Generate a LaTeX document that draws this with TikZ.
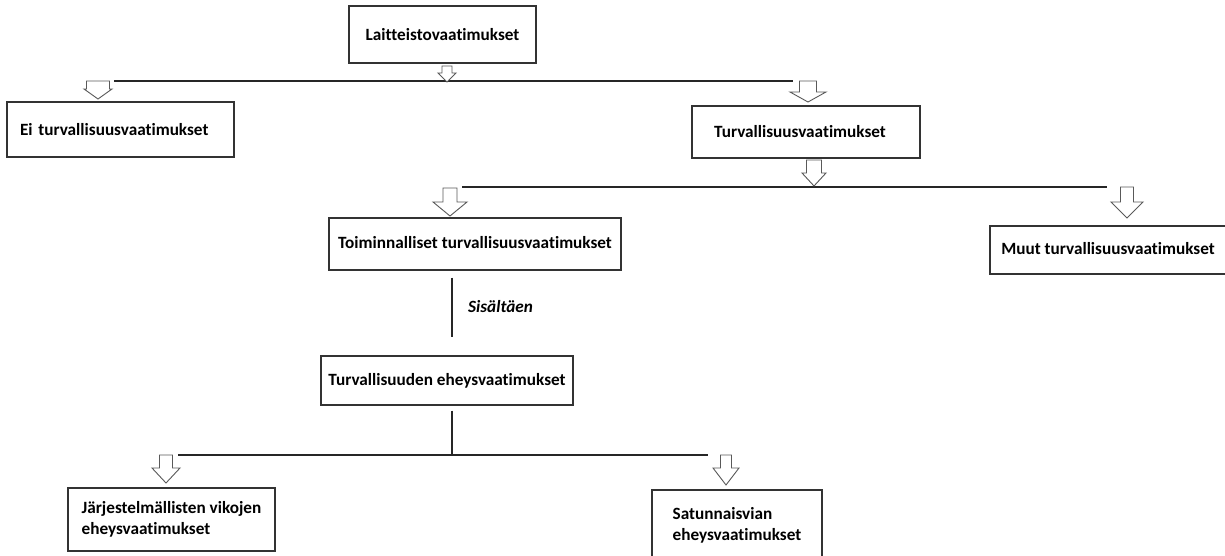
\documentclass[tikz,border=0pt]{standalone}
\usepackage{fontspec}
\setmainfont{Carlito}[Ligatures=NoCommon]
\begin{document}
\begin{tikzpicture}[x=1pt,y=-1pt,
  box/.style={draw=black!80, line width=1.1pt, inner sep=0pt, fill=white,
     font=\fontsize{17.2}{21}\selectfont\bfseries, text=black},
  lbox/.style={box, align=left},
  conn/.style={draw=black!85, line width=1.1pt},
  barrow/.style={draw=black!65, line width=0.9pt, fill=white, line join=miter},
  lbl/.style={font=\fontsize{17.2}{20}\selectfont\bfseries\itshape, inner sep=0pt}
]
\useasboundingbox (0,0) rectangle (1225,556);
\newcommand\blockarrow[6]{%
  \draw[barrow] ({#1-#5},#2) -- ({#1+#5},#2) -- ({#1+#5},#3) -- ({#1+#6},#3)
    -- (#1,#4) -- ({#1-#6},#3) -- ({#1-#5},#3) -- cycle;}

% boxes
\node[box, minimum width=187pt, minimum height=57pt] (lait) at (442.5,34.5) {Laitteistovaatimukset};
\node[lbox, text width=201pt, inner xsep=13pt, minimum height=55pt] (ei) at (120.5,129.5) {Ei turvallisuusvaatimukset};
\node[box, minimum width=228pt, minimum height=52pt, text width=208pt, inner xsep=0pt, align=center] (turv) at (806,132) {\hspace*{-12pt}Turvallisuusvaatimukset};
\node[box, minimum width=292pt, minimum height=52pt] (toim) at (475,244) {\raisebox{3pt}{Toiminnalliset turvallisuusvaatimukset}};
\node[box, minimum width=236pt, minimum height=48pt] (muut) at (1108,250) {\raisebox{3pt}{Muut turvallisuusvaatimukset}};
\node[box, minimum width=252pt, minimum height=49pt] (eheys) at (447,380.5) {Turvallisuuden eheysvaatimukset};
\node[lbox, minimum width=207pt, minimum height=63pt] (jarj) at (171.5,519.5) {J\"arjestelm\"allisten vikojen\\eheysvaatimukset};
\node[lbox, minimum width=170pt, minimum height=70pt] (satu) at (737,525) {Satunnaisvian\\eheysvaatimukset};

% branch points
\coordinate (l1a) at (114,81);
\coordinate (l1b) at (793,81);
\coordinate (l2a) at (462,187);
\coordinate (l2b) at (1107,187);
\coordinate (l5a) at (178,455);
\coordinate (l5b) at (708,455);
\coordinate (l5m) at (452,455);

% connector lines
\draw[conn] (l1a) -- (l1b);
\draw[conn] (l2a) -- (l2b);
\draw[conn] ([xshift=-23pt,yshift=-7pt]toim.south) -- ([xshift=5pt,yshift=18pt]eheys.north);
\draw[conn] ([xshift=5pt,yshift=-5pt]eheys.south) -- (l5m);
\draw[conn] (l5a) -- (l5b);

\node[lbl, anchor=west] (sis) at (468,307) {Sis\"alt\"aen};

% hollow block arrows: cx, ytop, yhead, ybot, shaft half, head half
\blockarrow{447}{66}{73}{82}{5}{9}
\blockarrow{98}{81}{89}{99}{11.5}{14}
\blockarrow{808}{81}{92}{102}{8.5}{18}
\blockarrow{814}{160}{173}{186}{7.5}{12}
\blockarrow{450}{188}{202}{216}{7}{17}
\blockarrow{1127}{187}{202}{218}{6.5}{16}
\blockarrow{166}{455}{468}{483}{6.5}{14}
\blockarrow{726}{455}{468}{485}{5.5}{13}
\end{tikzpicture}
\end{document}
